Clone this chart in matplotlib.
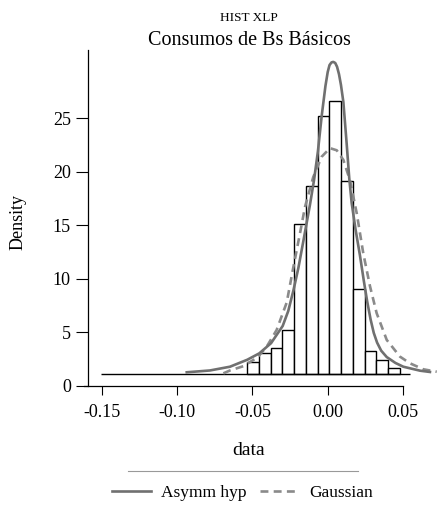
import matplotlib.pyplot as plt
import numpy as np
from matplotlib.lines import Line2D

plt.rcParams['font.family'] = ['Liberation Serif', 'DejaVu Serif']
plt.rcParams['axes.unicode_minus'] = False

# histogram
bin_edges = [-0.0534, -0.0456, -0.0378, -0.0301, -0.0222, -0.0144, -0.0064,
             0.0011, 0.0088, 0.0166, 0.0246, 0.0323, 0.0400, 0.0480]
bin_tops = [2.21, 3.11, 3.59, 5.23, 15.09, 18.67, 25.2, 26.6, 19.13, 9.02,
            3.31, 2.47, 1.65]
hist_base = 1.1
base_range = [-0.1507, 0.0546]

# fitted densities
asym_x = [-0.0936, -0.0782, -0.0649, -0.0534, -0.0454, -0.0376, -0.0299,
          -0.0262, -0.0228, -0.0195, -0.0162, -0.0118, -0.0091, -0.0065,
          -0.0040, -0.0015, 0.0000, 0.0012, 0.0025, 0.0037, 0.0050, 0.0062,
          0.0075, 0.0088, 0.0104, 0.0126, 0.0143, 0.0159, 0.0185, 0.0214,
          0.0240, 0.0262, 0.0285, 0.0306, 0.0328, 0.0355, 0.0392, 0.0450,
          0.0502, 0.0613, 0.0679]
asym_y = [1.28, 1.45, 1.8, 2.45, 3.05, 4.0, 5.6, 7.0, 8.9, 11.0, 13.5, 16.9,
          19.2, 21.9, 25.2, 28.0, 29.3, 29.95, 30.2, 30.25, 30.15, 29.8,
          29.1, 28.1, 26.5, 22.6, 19.4, 17.1, 14.6, 12.2, 9.8, 7.9, 6.2,
          4.95, 4.05, 3.3, 2.7, 2.15, 1.8, 1.43, 1.31]

gauss_x = [-0.0693, -0.0649, -0.0560, -0.0494, -0.0471, -0.0405, -0.0339,
           -0.0272, -0.0228, -0.0184, -0.0151, -0.0096, -0.0040, 0.0015,
           0.0060, 0.0104, 0.0148, 0.0193, 0.0236, 0.0281, 0.0325, 0.0392,
           0.0480, 0.0546, 0.0635, 0.0724]
gauss_y = [1.18, 1.45, 1.85, 2.43, 2.6, 3.67, 5.23, 7.8, 11.1, 14.25, 16.7,
           19.5, 21.4, 22.2, 22.0, 21.1, 19.2, 16.1, 12.4, 9.3, 6.8, 4.3,
           2.74, 2.12, 1.56, 1.33]

x_ticks = [-0.15, -0.10, -0.05, 0.00, 0.05]
x_labels = ["-0.15", "-0.10", "-0.05", "0.00", "0.05"]
y_ticks = [0, 5, 10, 15, 20, 25]

W, H = 438, 505
fig = plt.figure(figsize=(W / 100, H / 100), dpi=100)
ax = fig.add_axes([88 / W, 1 - 386 / H, 350 / W, 336 / H])

edges = np.array(bin_edges)
tops = np.array(bin_tops)
ax.hlines(hist_base, base_range[0], base_range[1], color='black', lw=1.0)
ax.bar(edges[:-1], tops - hist_base, width=np.diff(edges), bottom=hist_base,
       align='edge', facecolor='white', edgecolor='black', linewidth=1.0)

ax.plot(gauss_x, gauss_y, color='#8a8a8a', lw=1.9, ls=(0, (3, 2)),
        clip_on=False, label='Gaussian')
ax.plot(asym_x, asym_y, color='#707070', lw=1.9, clip_on=False,
        label='Asymm hyp')

ax.set_xlim(-0.15917, 0.07324)
ax.set_ylim(0, 31.36)
ax.spines['top'].set_visible(False)
ax.spines['right'].set_visible(False)
ax.spines['bottom'].set_bounds(-0.1618, 0.05)
for s in ['left', 'bottom']:
    ax.spines[s].set_linewidth(0.9)

ax.set_xticks(x_ticks)
ax.set_xticklabels(x_labels)
ax.set_yticks(y_ticks)
ax.set_yticklabels([str(v) for v in y_ticks])
ax.tick_params(axis='x', length=6.7, width=0.8, pad=6, labelsize=13)
ax.tick_params(axis='y', length=8.4, width=0.8, pad=4, labelsize=13)

fig.text(249 / W, 1 - 20.7 / H, "HIST XLP", ha='center', va='baseline',
         fontsize=9.5)
fig.text(249 / W, 1 - 45 / H, "Consumos de Bs Básicos", ha='center',
         va='baseline', fontsize=14.5)
fig.text(249 / W, 1 - 455 / H, "data", ha='center', va='baseline',
         fontsize=14)
fig.text(18 / W, 1 - 222.5 / H, "Density", ha='center', va='center',
         rotation=90, fontsize=13)

fig.add_artist(Line2D([128.3 / W, 358.3 / W], [1 - 470.7 / H, 1 - 470.7 / H],
                      color='#999999', lw=0.8))

handles = [Line2D([], [], color='#707070', lw=1.9),
           Line2D([], [], color='#8a8a8a', lw=1.9, ls=(0, (3, 2)))]
fig.legend(handles, ['Asymm hyp', 'Gaussian'], loc='center',
           bbox_to_anchor=(242.5 / W, 1 - 493.3 / H), ncol=2, frameon=False,
           fontsize=12.5, handlelength=2.2, handletextpad=0.6,
           columnspacing=0.8, borderaxespad=0, borderpad=0)

fig.savefig("out.png", dpi=100)
